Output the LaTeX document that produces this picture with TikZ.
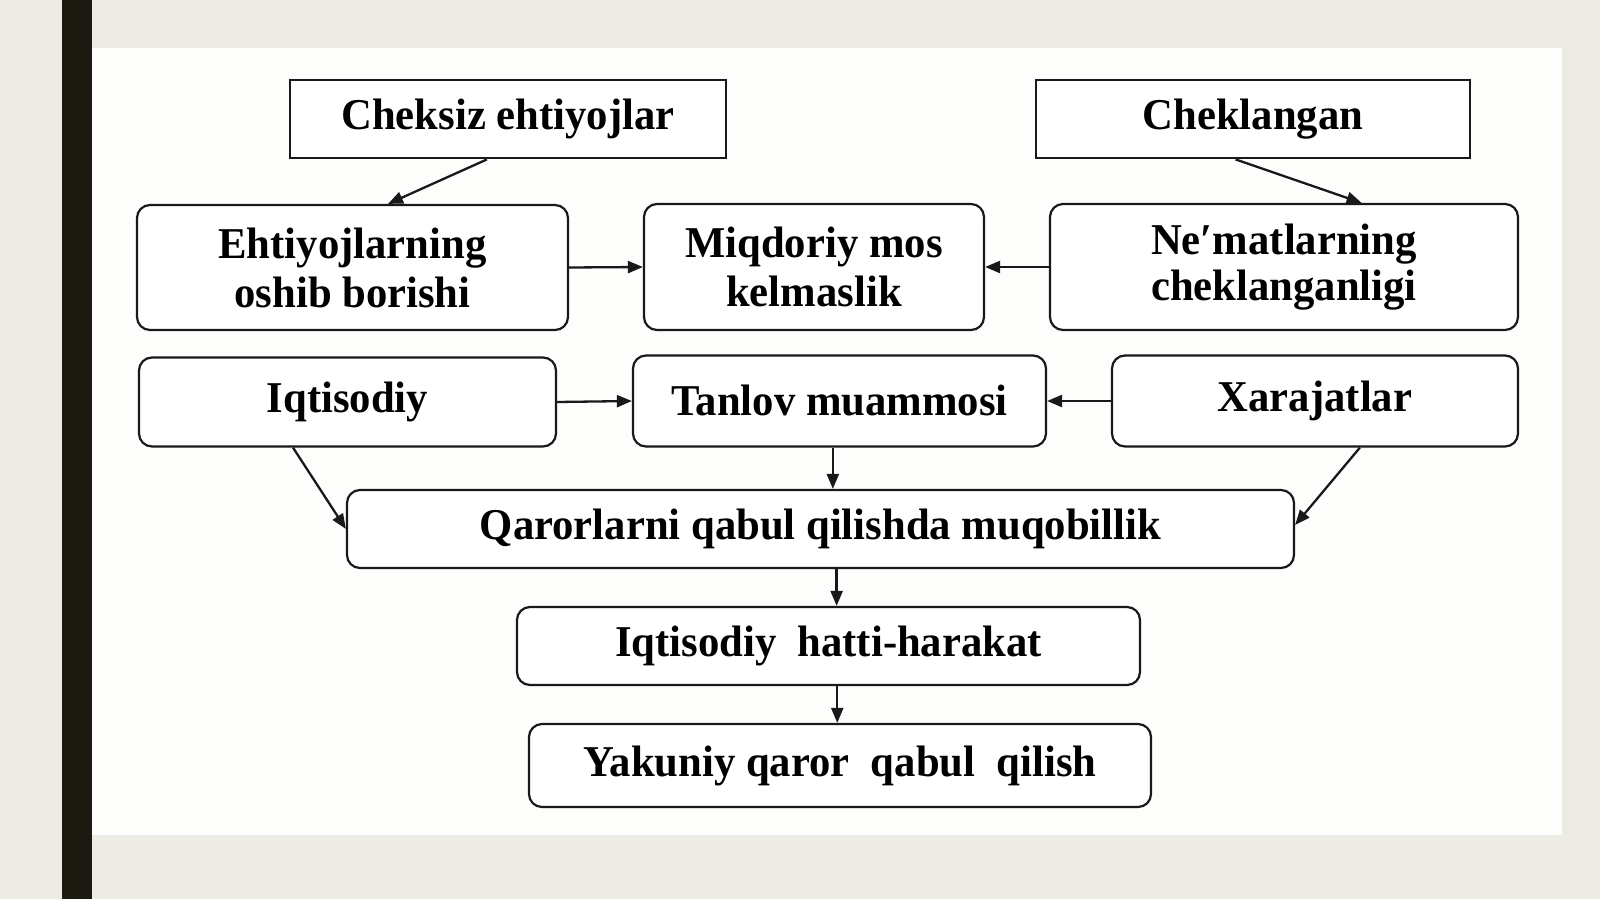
\documentclass[tikz,border=0pt]{standalone}
\usepackage{fontspec}
\setmainfont{Liberation Serif}[FakeStretch=0.97]
\usetikzlibrary{arrows.meta,calc}
\definecolor{outerbg}{RGB}{236,235,228}
\definecolor{barc}{RGB}{28,26,16}
\definecolor{panelc}{RGB}{253,253,251}
\definecolor{linec}{RGB}{25,25,25}
\begin{document}
\begin{tikzpicture}[x=1pt,y=-1pt,
  sqbox/.style={draw=linec, line width=2.8pt, rectangle, inner sep=0pt, fill=white,
    font=\bfseries\fontsize{44}{49}\selectfont, align=center, text=black},
  rbox/.style={sqbox, line width=2.2pt, rounded corners=13pt},
  arr/.style={draw=linec, line width=2.3pt, -{Triangle[length=15pt,width=12pt]}}]
\useasboundingbox (0,0) rectangle (1600,899);
\fill[outerbg] (0,0) rectangle (1600,899);
\fill[barc] (62,0) rectangle (92,899);
\fill[panelc] (92,48) rectangle (1562,835);

\node[sqbox, minimum width=436pt, minimum height=78pt] (cheksiz) at (508,119) {Cheksiz ehtiyojlar};
\node[sqbox, minimum width=434pt, minimum height=78pt] (cheklangan) at (1253,119) {Cheklangan};

\node[rbox, minimum width=431pt, minimum height=125pt] (ehtiyoj) at (352.5,267.5) {Ehtiyojlarning\\oshib borishi};
\node[rbox, minimum width=340pt, minimum height=126pt] (miqdoriy) at (814,267) {Miqdoriy mos\\kelmaslik};
\node[rbox, minimum width=468pt, minimum height=126pt] (nemat) at (1284,267) {\raisebox{-4pt}{\shortstack{Ne′matlarning\\[2pt]cheklanganligi}}};

\node[rbox, minimum width=417pt, minimum height=89pt] (iqtisodiy) at (347.5,402) {Iqtisodiy};
\node[rbox, minimum width=413pt, minimum height=91pt] (tanlov) at (839.5,401) {\raisebox{2pt}{Tanlov muammosi}};
\node[rbox, minimum width=406pt, minimum height=91pt] (xarajat) at (1315,401) {Xarajatlar};

\node[rbox, minimum width=947pt, minimum height=78pt] (qaror) at (820.5,529) {Qarorlarni qabul qilishda muqobillik};
\node[rbox, minimum width=623pt, minimum height=78pt] (harakat) at (828.5,646) {Iqtisodiy\ \ hatti-harakat};
\node[rbox, minimum width=622pt, minimum height=83pt] (yakuniy) at (840,765.5) {Yakuniy qaror\ \ qabul\ \ qilish};

\draw[arr] ($(cheksiz.south west)!0.452!(cheksiz.south east)$) -- ($(ehtiyoj.north west)!0.582!(ehtiyoj.north east)$);
\draw[arr] ($(cheklangan.south west)!0.46!(cheklangan.south east)$) -- ($(nemat.north west)!0.665!(nemat.north east)$);
\draw[arr] (ehtiyoj.east) -- (miqdoriy.west);
\draw[arr] (nemat.west) -- (miqdoriy.east);
\draw[arr] (iqtisodiy.east) -- (tanlov.west);
\draw[arr] (xarajat.west) -- (tanlov.east);
\coordinate (t1) at ($(tanlov.south west)!0.484!(tanlov.south east)$);
\draw[arr] (t1) -- (t1 |- qaror.north);
\draw[arr] ($(iqtisodiy.south west)!0.37!(iqtisodiy.south east)$) -- (qaror.west);
\draw[arr] ($(xarajat.south west)!0.61!(xarajat.south east)$) -- ($(qaror.north east)!0.45!(qaror.south east)$);
\coordinate (q1) at ($(qaror.south west)!0.517!(qaror.south east)$);
\draw[arr] (q1) -- (q1 |- harakat.north);
\coordinate (h1) at ($(harakat.south west)!0.514!(harakat.south east)$);
\draw[arr] (h1) -- (h1 |- yakuniy.north);
\end{tikzpicture}
\end{document}
